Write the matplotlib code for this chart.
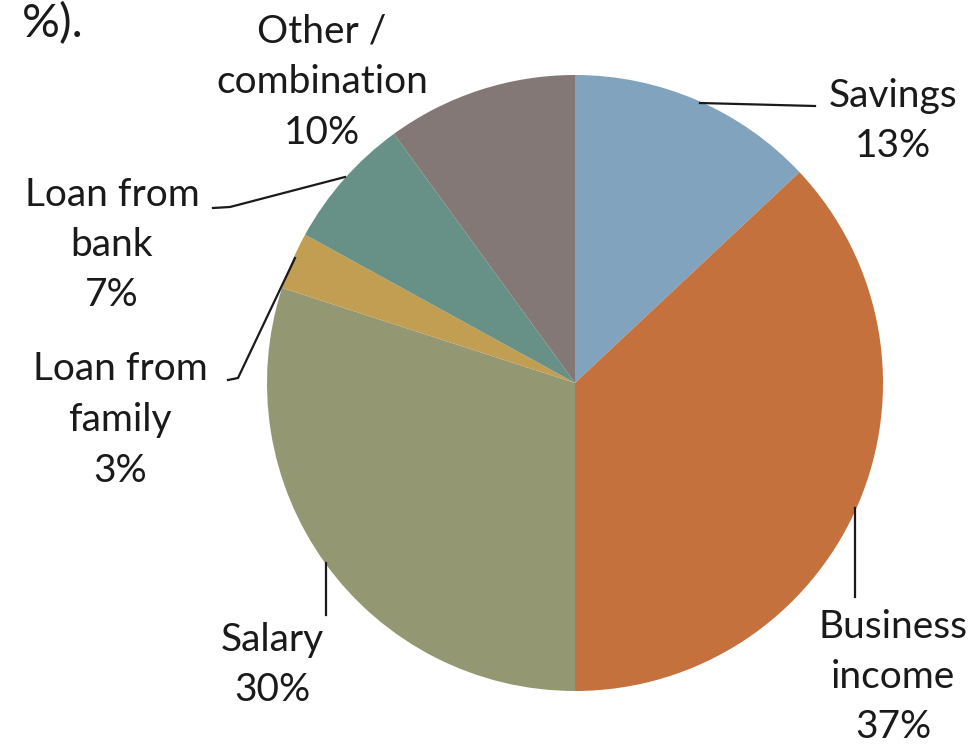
import matplotlib.pyplot as plt

# slice data, clockwise from 12 o'clock
labels = ["Savings", "Business\nincome", "Salary", "Loan from\nfamily", "Loan from\nbank", "Other /\ncombination"]
shares = [13, 37, 30, 3, 7, 10]
colors = ["#82A3BD", "#C4713E", "#939772", "#C29E52", "#679086", "#837876"]

W, H = 977, 745
fig = plt.figure(figsize=(W / 100, H / 100), dpi=100)
ax = fig.add_axes([0, 0, 1, 1])

cx, cy, r = 575, H - 383, 308
ax.pie(shares, colors=colors, startangle=90, counterclock=False,
       center=(cx, cy), radius=r, frame=True)
ax.set_xlim(0, W)
ax.set_ylim(0, H)
ax.set_aspect("equal")
ax.axis("off")

font = dict(family="Lato", fontsize=28, color="#1a1a1a", linespacing=1.5, ha="center", va="center")

# label texts with their percentages
def lab(i, x, y):
    ax.text(x, H - y, f"{labels[i]}\n{shares[i]}%", **font)

lab(0, 893, 121)
lab(1, 893, 677)
lab(2, 272, 665)
lab(3, 120, 420)
lab(4, 112, 245)
lab(5, 322, 82)

# leader lines
def line(pts):
    ax.plot([p[0] for p in pts], [H - p[1] for p in pts], color="#1a1a1a", lw=1.6)

line([(700, 103), (815, 106)])
line([(855, 508), (855, 597)])
line([(326, 563), (326, 615)])
line([(345, 177), (230, 207), (213, 208)])
line([(295, 258), (238, 378), (228, 380)])

# fragment of surrounding text at the top-left
ax.text(84, H - 24, "%).", family="Lato", fontsize=34, ha="right", va="center", color="#1a1a1a")

plt.savefig("out.png", dpi=100)
